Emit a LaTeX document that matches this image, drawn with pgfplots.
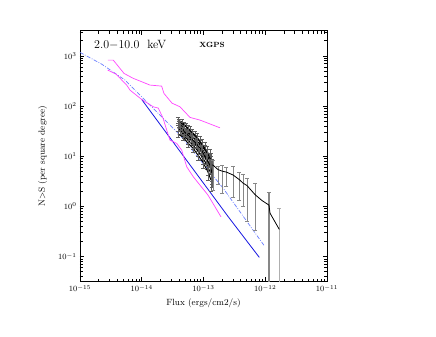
\documentclass[border=0pt]{standalone}
\usepackage{pgfplots}
\pgfplotsset{compat=1.18}
\definecolor{pinkline}{RGB}{255,70,255}
\definecolor{blueline}{RGB}{20,20,225}
\definecolor{dashblue}{RGB}{105,125,255}
\definecolor{errgray}{RGB}{135,135,135}
\definecolor{errdark}{RGB}{95,95,95}
\definecolor{errlight}{RGB}{175,175,175}

\begin{document}
\begin{tikzpicture}
\path[use as bounding box] (-80pt,-55.3pt) rectangle (356pt,281.7pt);
\begin{axis}[
    at={(0pt,0pt)}, anchor=south west,
    scale only axis, width=247pt, height=251pt,
    xmode=log, ymode=log,
    xmin=1e-15, xmax=1e-11,
    ymin=0.03162, ymax=3162,
    no markers,
    tick label style={font=\fontsize{8}{9}\selectfont},
    label style={font=\fontsize{9}{10}\selectfont},
    xlabel={Flux (ergs/cm2/s)},
    ylabel={N$>$S (per square degree)},
    ylabel shift=4pt,
    axis line style={line width=0.6pt},
    every tick/.style={black, line width=0.5pt},
]
    % model curves
    \addplot[dashblue, line width=0.7pt, dash pattern=on 4pt off 1.5pt on 0.8pt off 1.5pt] coordinates {
        (1e-15,1170) (2.24e-15,684) (5.36e-15,328) (9.73e-15,157)
        (4.16e-14,26.3) (2.09e-13,2.29) (3.90e-13,0.780) (9.66e-13,0.164)};
    \addplot[blueline, line width=0.8pt] coordinates {
        (9.98e-15,135) (2.52e-13,0.621) (8.02e-13,0.0964)};

    % envelopes
    \addplot[pinkline, line width=0.7pt] coordinates {
        (2.84e-15,820) (3.46e-15,820) (5.16e-15,446) (7.30e-15,355) (1.361e-14,261)
        (2.10e-14,249) (2.29e-14,178) (3.09e-14,114) (4.16e-14,96.4) (6.04e-14,59.3)
        (8.77e-14,52.4) (1.849e-13,36.8)};
    \addplot[pinkline, line width=0.7pt] coordinates {
        (2.81e-15,519) (3.83e-15,432) (5.70e-15,261) (6.46e-15,207) (9.98e-15,135)
        (1.538e-14,96.4) (1.854e-14,90.8) (2.21e-14,57.4) (2.54e-14,33.1) (2.86e-14,20.9)
        (3.68e-14,18.0) (4.44e-14,13.2) (5.35e-14,6.15) (6.84e-14,3.89) (1.183e-13,1.68)
        (1.919e-13,0.621)};

    % individual fields
    \pgfplotsset{jumble/.style={black, mark=none, line width=1pt,
        error bars/.cd, y dir=both, y explicit relative,
        error bar style={errdark, line width=0.6pt}}}
    \addplot[jumble] coordinates {
        (3.86e-14,52.4) +- (0,0.12) (4.49e-14,47.8) +- (0,0.14) (5.21e-14,39.8) +- (0,0.16)
        (6.05e-14,33.1) +- (0,0.18) (7.28e-14,26.3) +- (0,0.22) (8.78e-14,20.0) +- (0,0.26)
        (1.057e-13,14.5) +- (0,0.32) (1.274e-13,10.0) +- (0,0.40)};
    \addplot[jumble] coordinates {
        (4.01e-14,43.6) +- (0,0.12) (4.66e-14,38.0) +- (0,0.14) (5.41e-14,31.6) +- (0,0.16)
        (6.28e-14,26.3) +- (0,0.18) (7.56e-14,20.9) +- (0,0.22) (9.11e-14,15.2) +- (0,0.26)
        (1.098e-13,10.5) +- (0,0.32) (1.323e-13,7.29) +- (0,0.40)};
    \addplot[jumble] coordinates {
        (3.86e-14,36.3) +- (0,0.12) (4.49e-14,30.2) +- (0,0.14) (5.41e-14,25.1) +- (0,0.16)
        (6.51e-14,20.0) +- (0,0.18) (7.85e-14,15.9) +- (0,0.22) (9.46e-14,11.5) +- (0,0.26)
        (1.139e-13,7.98) +- (0,0.32) (1.373e-13,5.29) +- (0,0.40)};
    \addplot[jumble] coordinates {
        (4.16e-14,31.6) +- (0,0.12) (4.83e-14,26.3) +- (0,0.14) (5.61e-14,20.9) +- (0,0.16)
        (6.76e-14,16.6) +- (0,0.18) (8.15e-14,12.6) +- (0,0.22) (9.81e-14,9.17) +- (0,0.26)
        (1.183e-13,6.07) +- (0,0.32) (1.373e-13,4.01) +- (0,0.40)};
    \addplot[jumble] coordinates {
        (3.86e-14,27.6) +- (0,0.12) (4.66e-14,24.0) +- (0,0.14) (5.61e-14,18.2) +- (0,0.16)
        (6.76e-14,14.5) +- (0,0.18) (8.15e-14,10.5) +- (0,0.22) (9.81e-14,7.63) +- (0,0.26)
        (1.183e-13,4.82) +- (0,0.32) (1.323e-13,3.34) +- (0,0.40)};
    \addplot[jumble] coordinates {
        (4.16e-14,38.0) +- (0,0.12) (5.02e-14,31.6) +- (0,0.14) (6.05e-14,27.6) +- (0,0.16)
        (7.28e-14,21.9) +- (0,0.18) (8.78e-14,17.4) +- (0,0.22) (1.057e-13,13.2) +- (0,0.26)
        (1.228e-13,8.75) +- (0,0.32) (1.373e-13,6.35) +- (0,0.40)};
    \addplot[jumble] coordinates {
        (4.01e-14,48.0) +- (0,0.12) (4.83e-14,42.0) +- (0,0.14) (5.61e-14,35.5) +- (0,0.16)
        (6.51e-14,29.5) +- (0,0.18) (7.85e-14,23.5) +- (0,0.22) (9.46e-14,17.0) +- (0,0.26)
        (1.139e-13,11.8) +- (0,0.32) (1.323e-13,8.30) +- (0,0.40)};
    \addplot[jumble] coordinates {
        (4.49e-14,34.0) +- (0,0.12) (5.21e-14,28.5) +- (0,0.14) (6.28e-14,23.0) +- (0,0.16)
        (7.56e-14,18.0) +- (0,0.18) (9.11e-14,13.8) +- (0,0.22) (1.098e-13,9.20) +- (0,0.26)
        (1.274e-13,6.60) +- (0,0.32) (1.373e-13,4.60) +- (0,0.40)};

    % combined curve: error bars only
    \addplot[errgray, draw=none, mark=none, error bars/.cd, y dir=both, y explicit,
        error bar style={draw=errgray, line width=0.5pt}] coordinates {
        (1.426e-13,6.65) += (0,1.71) -= (0,4.54)
        (1.718e-13,5.41) += (0,0.94) -= (0,2.63)
        (1.995e-13,5.05) += (0,1.60) -= (0,3.21)
        (2.355e-13,4.82) += (0,1.25) -= (0,2.28)
        (3.04e-13,4.20) += (0,2.15) -= (0,2.67)
        (3.80e-13,3.42) += (0,1.47) -= (0,2.09)
        (4.37e-13,2.91) += (0,1.49) -= (0,1.90)
        (5.06e-13,2.60) += (0,1.01) -= (0,2.09)
        (6.83e-13,1.72) += (0,1.15) -= (0,1.383)};
    \addplot[errgray, draw=none, mark=none, error bars/.cd, y dir=both, y explicit,
        error bar style={draw=errgray, line width=1.3pt}] coordinates {
        (1.151e-12,1.06) += (0,0.84) -= (0,1.059)};
    \addplot[errlight, draw=none, mark=none, error bars/.cd, y dir=both, y explicit,
        error bar style={draw=errlight, line width=1.3pt}] coordinates {
        (1.69e-12,0.348) += (0,0.589) -= (0,0.347)};
    % combined curve
    \addplot[black, mark=none, line width=0.8pt] coordinates {
        (1.373e-13,6.65) (1.426e-13,6.65) (1.718e-13,5.41) (1.995e-13,5.05) (2.355e-13,4.82)
        (3.04e-13,4.20) (3.80e-13,3.42) (4.37e-13,2.91) (5.06e-13,2.60) (6.83e-13,1.72)
        (8.85e-13,1.31) (1.151e-12,1.06) (1.194e-12,0.735) (1.69e-12,0.348)};

    \node[anchor=west, font=\fontsize{12}{14}\selectfont, inner sep=0pt] at (axis cs:1.687e-15,1656) {2.0$-$10.0\ \ keV};
    \node[anchor=west, font=\fontsize{7.5}{9}\selectfont\bfseries, inner sep=0pt] at (axis cs:8.55e-14,1656) {XGPS};
\end{axis}
\end{tikzpicture}
\end{document}
